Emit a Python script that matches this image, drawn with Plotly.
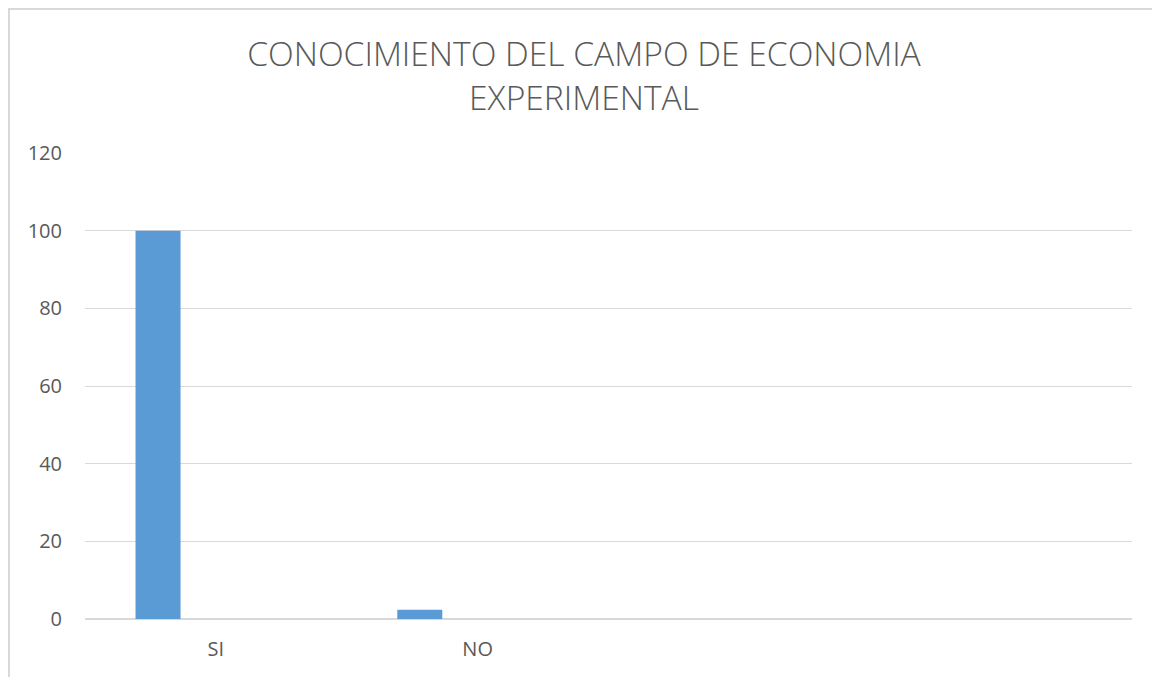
import plotly.graph_objects as go

categories = ["SI", "NO"]
values = [100, 2.4]
y_ticks = [0, 20, 40, 60, 80, 100, 120]
title_text = "CONOCIMIENTO DEL CAMPO DE ECONOMIA<br>EXPERIMENTAL"

W, H = 1152, 669
ml, mr, mt, mb = 77, 28, 145, 58
pw, ph = W - ml - mr, H - mt - mb

fig = go.Figure()
fig.add_trace(go.Bar(
    x=categories, y=values,
    marker=dict(color="#5b9bd5", line=dict(width=0)),
    width=0.172, offset=-0.307,
))

border = "#d9d9d9"
fig.update_layout(
    width=W, height=H,
    margin=dict(l=ml, r=mr, t=mt, b=mb),
    paper_bgcolor="white", plot_bgcolor="white",
    font=dict(family="Open Sans, Liberation Sans, sans-serif", color="#595959"),
    showlegend=False,
    title=dict(text=title_text, x=(584 - 8) / W, xref="container", xanchor="center",
               y=1 - 58 / H, yref="container", yanchor="top",
               font=dict(size=33.6, color="#595959", weight=300)),
    xaxis=dict(type="category", range=[-0.5, 3.5], showgrid=False,
               showline=False, zeroline=False, ticks="",
               tickfont=dict(size=20, color="#595959"), ticklabelstandoff=16),
    yaxis=dict(range=[0, 120], tickvals=y_ticks, showgrid=True, gridcolor=border,
               gridwidth=1, zeroline=True, zerolinecolor=border, zerolinewidth=2,
               showline=False, ticks="", tickfont=dict(size=20, color="#595959"),
               ticklabelstandoff=22),
    shapes=[dict(type="rect", xref="paper", yref="paper",
                 x0=(1 - ml) / pw, x1=1.2, y0=-0.3, y1=(H - mb - 1) / ph,
                 line=dict(color=border, width=2), fillcolor="rgba(0,0,0,0)",
                 layer="below")],
)
fig.write_html("out.html")
